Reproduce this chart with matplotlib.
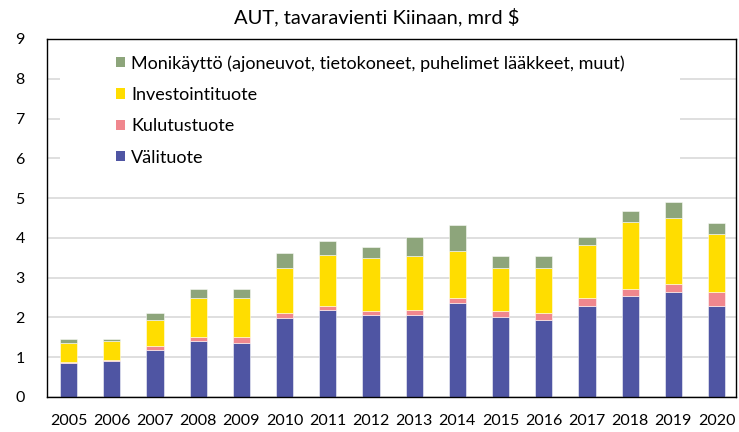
import matplotlib
matplotlib.use("Agg")
import matplotlib.pyplot as plt
from matplotlib.patches import Patch, Rectangle
import numpy as np

years = ["2005", "2006", "2007", "2008", "2009", "2010", "2011", "2012",
         "2013", "2014", "2015", "2016", "2017", "2018", "2019", "2020"]
valituote = [0.86, 0.90, 1.19, 1.41, 1.37, 1.98, 2.19, 2.07, 2.07, 2.37, 2.02, 1.93, 2.29, 2.55, 2.63, 2.29]
kulutustuote = [0.03, 0.03, 0.10, 0.09, 0.13, 0.13, 0.10, 0.08, 0.12, 0.13, 0.13, 0.18, 0.21, 0.17, 0.21, 0.34]
investointituote = [0.48, 0.48, 0.64, 1.00, 1.00, 1.13, 1.29, 1.35, 1.35, 1.17, 1.09, 1.13, 1.31, 1.69, 1.66, 1.48]
monikaytto = [0.09, 0.05, 0.18, 0.22, 0.22, 0.39, 0.35, 0.26, 0.48, 0.66, 0.31, 0.31, 0.22, 0.26, 0.39, 0.26]

labels = ["Välituote", "Kulutustuote", "Investointituote",
          "Monikäyttö (ajoneuvot, tietokoneet, puhelimet lääkkeet, muut)"]
colors = ["#4F55A3", "#F0878E", "#FFDD00", "#8DA57B"]
yticks = list(range(0, 10))

plt.rcParams['font.family'] = ['Lato', 'DejaVu Sans']

fig = plt.figure(figsize=(7.39, 4.32), dpi=100)
ax = fig.add_axes([47/739, 35/432, 689/739, 358/432])

x = np.arange(len(years))
series = [valituote, kulutustuote, investointituote, monikaytto]
bottom = np.zeros(len(years))
for vals, col in zip(series, colors):
    ax.bar(x, vals, width=0.4, bottom=bottom, color=col,
           edgecolor=(1, 1, 1, 0.6), linewidth=0.6, zorder=2)
    bottom = bottom + np.array(vals)

ax.set_xlim(-0.5, 15.45)
ax.set_ylim(0, 9)
ax.set_yticks(yticks)
ax.set_xticks(x)
ax.set_xticklabels(years)
ax.tick_params(axis='both', length=0, labelsize=11.5, colors='#000000')
ax.tick_params(axis='x', pad=12)
ax.tick_params(axis='y', pad=16)
ax.yaxis.grid(True, color='#D9D9D9', linewidth=1.2)
ax.set_axisbelow(True)
for s in ax.spines.values():
    s.set_color('#000000')
    s.set_linewidth(1.0)

# white legend area covering gridlines
ax.add_patch(Rectangle(((60-47)/689, 5.55/9), (680-60)/689, (8.85-5.55)/9,
                       transform=ax.transAxes, facecolor='white',
                       edgecolor='none', zorder=1))

handles = [Patch(facecolor=c, edgecolor='none') for c in colors]
leg = ax.legend(handles[::-1], labels[::-1], loc='upper left',
                bbox_to_anchor=((116-47)/689, (397-55)/358), frameon=False,
                fontsize=13, handlelength=0.5, handleheight=0.5,
                handletextpad=0.35, labelspacing=0.85, borderpad=0,
                borderaxespad=0)
leg.set_zorder(3)

fig.suptitle("AUT, tavaravienti Kiinaan, mrd $", x=377/739, y=1-17/432,
             va='center', fontsize=14.5)

fig.savefig("out.png", dpi=100)
